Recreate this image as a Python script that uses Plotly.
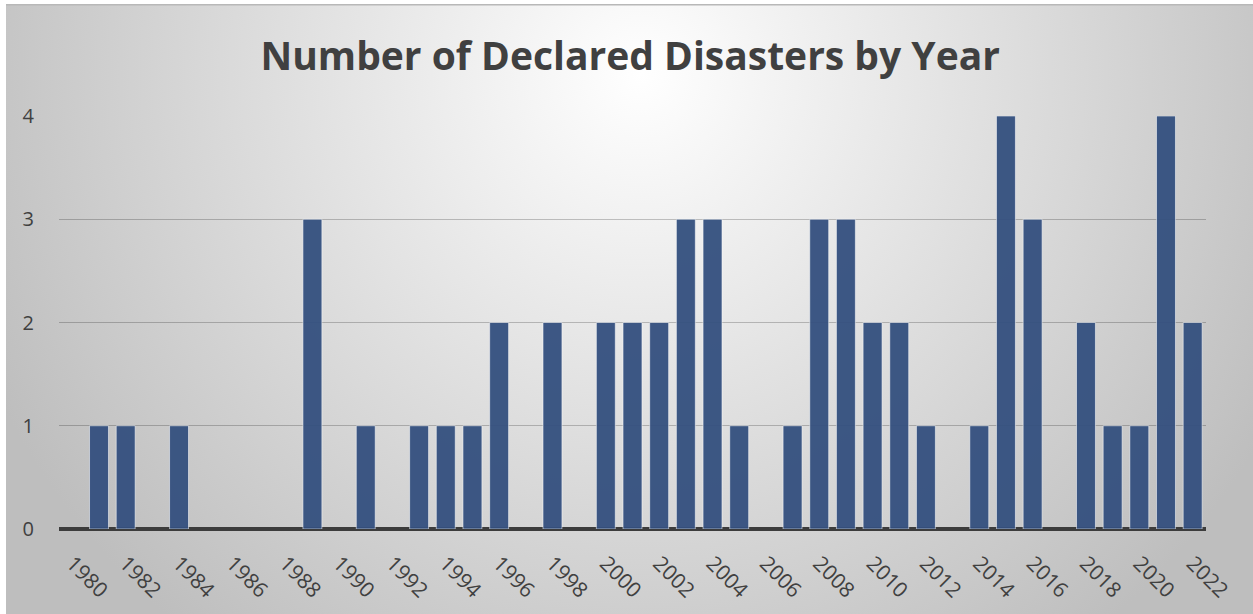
import base64
import plotly.graph_objects as go

# ---- data ----
years = [1980, 1981, 1982, 1983, 1984, 1985, 1986, 1987, 1988, 1989,
         1990, 1991, 1992, 1993, 1994, 1995, 1996, 1997, 1998, 1999,
         2000, 2001, 2002, 2003, 2004, 2005, 2006, 2007, 2008, 2009,
         2010, 2011, 2012, 2013, 2014, 2015, 2016, 2017, 2018, 2019,
         2020, 2021, 2022]
disasters = [0, 1, 1, 0, 1, 0, 0, 0, 0, 3,
             0, 1, 0, 1, 1, 1, 2, 0, 2, 0,
             2, 2, 2, 3, 3, 1, 0, 1, 3, 3,
             2, 2, 1, 0, 1, 4, 3, 0, 2, 1,
             1, 4, 2]
tick_years = years[::2]
tick_labels = [str(y) for y in tick_years]
y_ticks = [0, 1, 2, 3, 4]

W, H = 1253, 614
ML, MR, MT, MB = 59, 47, 116, 85
pw, ph = W - ML - MR, H - MT - MB

# chart-area background: radial gradient (Excel style) with thin top border
bw, bh = W - 6, H - 4
svg = f"""<svg xmlns='http://www.w3.org/2000/svg' width='{bw}' height='{bh}' viewBox='0 0 {bw} {bh}' preserveAspectRatio='none'>
<defs><radialGradient id='g' gradientUnits='userSpaceOnUse' cx='635' cy='70' r='720'>
<stop offset='0' stop-color='#ffffff'/><stop offset='1' stop-color='#bebebe'/></radialGradient></defs>
<rect x='0' y='0' width='{bw}' height='{bh}' fill='url(#g)'/>
<line x1='0' y1='0.75' x2='{bw}' y2='0.75' stroke='#b8b8b8' stroke-width='1.5'/>
</svg>"""
src = "data:image/svg+xml;base64," + base64.b64encode(svg.encode()).decode()

# no outline on empty (zero) years
outline_w = [1 if v > 0 else 0 for v in disasters]

fig = go.Figure()
fig.add_trace(go.Bar(
    x=years, y=disasters,
    marker=dict(color="#34507f", opacity=0.95,
                line=dict(color="rgba(255,255,255,0.55)", width=outline_w)),
    hoverinfo="x+y",
))

fig.update_layout(
    width=W, height=H,
    margin=dict(l=ML, r=MR, t=MT, b=MB, pad=0),
    paper_bgcolor="white",
    plot_bgcolor="rgba(0,0,0,0)",
    bargap=0.29,
    showlegend=False,
    title=dict(text="<b>Number of Declared Disasters by Year</b>",
               x=0.503, xanchor="center", y=1 - 56 / H, yanchor="middle",
               font=dict(family="Open Sans", size=39, color="#404040")),
    images=[dict(source=src, xref="paper", yref="paper",
                 x=(6 - ML) / pw, y=(H - MB - 4) / ph,
                 sizex=bw / pw, sizey=bh / ph,
                 xanchor="left", yanchor="top",
                 sizing="stretch", layer="below")],
    font=dict(family="Open Sans", color="#404040"),
)
fig.update_xaxes(
    range=[years[0] - 0.5, years[-1] + 0.5],
    tickmode="array", tickvals=tick_years, ticktext=tick_labels,
    tickangle=45, tickfont=dict(size=21, color="#404040"),
    ticks="", showgrid=False, showline=False, zeroline=False,
    ticklabelstandoff=17,
)
fig.update_yaxes(
    range=[0, 4], tickmode="array", tickvals=y_ticks,
    tickfont=dict(size=20, color="#404040"),
    showgrid=True, gridcolor="rgba(0,0,0,0.22)", gridwidth=1,
    zeroline=True, zerolinecolor="#3c3c3c", zerolinewidth=4,
    showline=False, ticks="", ticklabelstandoff=24,
)

fig.write_html("out.html")
